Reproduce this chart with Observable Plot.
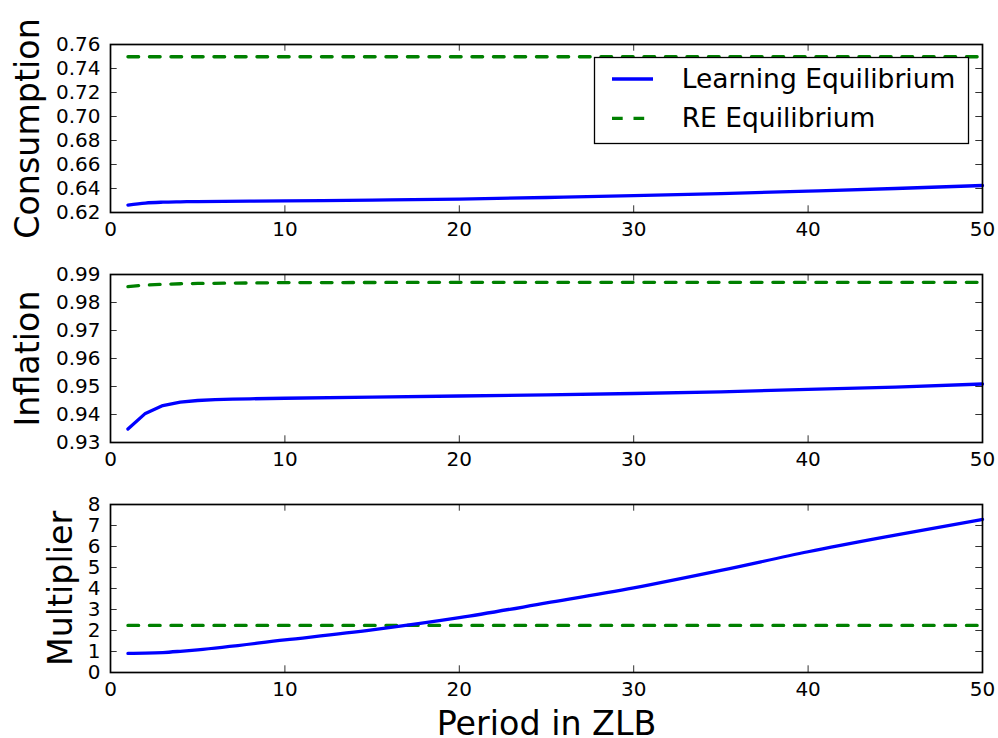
<!DOCTYPE html>
<html><head><meta charset="utf-8">
<script src="https://cdn.jsdelivr.net/npm/d3@7"></script>
<script src="https://cdn.jsdelivr.net/npm/@observablehq/plot@0.6"></script>
<style>
body{margin:0;background:#fff;}
#wrap{position:relative;width:998px;height:738px;background:#fff;font-family:"DejaVu Sans";overflow:hidden;}
#wrap > svg{position:absolute;left:0;}
</style></head><body><div id="wrap"></div>
<script>
const seriesNames = ["Learning Equilibrium", "RE Equilibrium"];
const seriesColors = ["#0000ff", "#008000"];
const panelLabels = ["Consumption", "Inflation", "Multiplier"];
const xLabel = "Period in ZLB";
const xTicks = [0, 10, 20, 30, 40, 50];

// Consumption
const consPeriods = [1, 2, 3, 4, 5, 10, 15, 20, 25, 30, 35, 40, 45, 50];
const consLearning = [0.6262, 0.6279, 0.6286, 0.6289, 0.6291, 0.6297, 0.6303, 0.6312, 0.6325, 0.6340, 0.6358, 0.6378, 0.6400, 0.6425];
const consREPeriods = [1, 50];
const consRE = [0.7498, 0.7498];
const consTicks = [0.62, 0.64, 0.66, 0.68, 0.70, 0.72, 0.74, 0.76];

// Inflation
const inflPeriods = [1, 2, 3, 4, 5, 6, 7, 8, 10, 15, 20, 25, 30, 35, 40, 45, 50];
const inflLearning = [0.9348, 0.9404, 0.9432, 0.9444, 0.9450, 0.9453, 0.9455, 0.9456, 0.9458, 0.9462, 0.9466, 0.9470, 0.9475, 0.9481, 0.9490, 0.9498, 0.9509];
const inflREPeriods = [1, 2, 3, 4, 5, 10, 20, 30, 40, 50];
const inflRE = [0.9857, 0.9862, 0.9865, 0.9867, 0.9868, 0.9871, 0.9872, 0.9872, 0.9872, 0.9872];
const inflTicks = [0.93, 0.94, 0.95, 0.96, 0.97, 0.98, 0.99];

// Multiplier
const multPeriods = [1, 2, 3, 4, 5, 10, 15, 20, 25, 30, 35, 40, 45, 50];
const multLearning = [0.91, 0.92, 0.95, 1.01, 1.08, 1.55, 2.03, 2.61, 3.31, 4.03, 4.86, 5.75, 6.54, 7.29];
const multREPeriods = [1, 50];
const multRE = [2.24, 2.24];
const multTicks = [0, 1, 2, 3, 4, 5, 6, 7, 8];

const W = 998, ML = 110, MR = 16, TICK = 6.7;
const wrap = document.getElementById("wrap");

function panel(o) {
  const learn = o.lx.map((x, i) => ({x, y: o.ly[i]}));
  const re = o.rx.map((x, i) => ({x, y: o.ry[i]}));
  const fw = W - ML - MR, fh = o.height - o.mt - o.mb;
  const marks = [
    Plot.line(re, {x: "x", y: "y", stroke: seriesColors[1], strokeWidth: 3.3, strokeDasharray: "10.7,10.8"}),
    Plot.line(learn, {x: "x", y: "y", stroke: seriesColors[0], strokeWidth: 3.3, curve: o.curve}),
    Plot.ruleY(o.ticks, {y: d => d, insetRight: fw - TICK, stroke: "#333", strokeWidth: 1}),
    Plot.ruleY(o.ticks, {y: d => d, insetLeft: fw - TICK, stroke: "#333", strokeWidth: 1}),
    Plot.ruleX(xTicks, {x: d => d, insetTop: fh - TICK, stroke: "#333", strokeWidth: 1}),
    Plot.ruleX(xTicks, {x: d => d, insetBottom: fh - TICK, stroke: "#333", strokeWidth: 1}),
    Plot.axisY({ticks: o.ticks, tickSize: 0, tickPadding: 10, tickFormat: o.fmt, label: null}),
    Plot.axisX({ticks: xTicks, tickSize: 0, tickPadding: 9.3, tickFormat: d3.format("d"), label: null}),
    Plot.frame({stroke: "black", strokeWidth: 1.7}),
    Plot.text([o.label], {text: d => d, frameAnchor: "left", textAnchor: "middle", lineAnchor: "middle", rotate: -90, dx: o.labelDx, fontSize: 33.3, fill: "black"})
  ];
  if (o.xlabel) marks.push(Plot.text([o.xlabel], {text: d => d, frameAnchor: "bottom", textAnchor: "middle", lineAnchor: "middle", dy: 51.5, fontSize: 33.3, fill: "black"}));
  const svg = Plot.plot({
    width: W, height: o.height,
    marginLeft: ML, marginRight: MR, marginTop: o.mt, marginBottom: o.mb,
    x: {domain: [0, 50], axis: null},
    y: {domain: o.domain, axis: null},
    style: {fontFamily: "DejaVu Sans", fontSize: "20px", background: "transparent", color: "black", overflow: "visible"},
    marks
  });
  svg.style.top = o.top + "px";
  wrap.appendChild(svg);
}

panel({lx: consPeriods, ly: consLearning, rx: consREPeriods, ry: consRE, domain: [0.62, 0.76], ticks: consTicks, fmt: d3.format(".2f"), label: panelLabels[0], labelDx: -82.4, top: 0, height: 244, mt: 44, mb: 32, curve: "monotone-x"});
panel({lx: inflPeriods, ly: inflLearning, rx: inflREPeriods, ry: inflRE, domain: [0.93, 0.99], ticks: inflTicks, fmt: d3.format(".2f"), label: panelLabels[1], labelDx: -82.4, top: 244, height: 230, mt: 30, mb: 32, curve: "linear"});
panel({lx: multPeriods, ly: multLearning, rx: multREPeriods, ry: multRE, domain: [0, 8], ticks: multTicks, fmt: d3.format("d"), label: panelLabels[2], labelDx: -49, top: 474, height: 264, mt: 30, mb: 66, xlabel: xLabel, curve: "monotone-x"});

// Legend (upper right of first panel)
const leg = d3.create("svg").attr("width", W).attr("height", 738)
  .style("position", "absolute").style("top", "0px").style("left", "0px").style("pointer-events", "none");
leg.append("rect").attr("x", 594.5).attr("y", 57.5).attr("width", 374).attr("height", 86)
  .attr("fill", "white").attr("stroke", "black").attr("stroke-width", 1.3);
const rows = [79, 118.3];
seriesNames.forEach((name, i) => {
  leg.append("line").attr("x1", 612).attr("x2", 653).attr("y1", rows[i]).attr("y2", rows[i])
    .attr("stroke", seriesColors[i]).attr("stroke-width", 3.3)
    .attr("stroke-dasharray", i === 1 ? "10.7,10.8" : null);
  leg.append("text").attr("x", 681.7).attr("y", rows[i] + 8.5).attr("font-size", 26.5)
    .attr("font-family", "DejaVu Sans").attr("fill", "black").text(name);
});
wrap.appendChild(leg.node());
</script></body></html>
